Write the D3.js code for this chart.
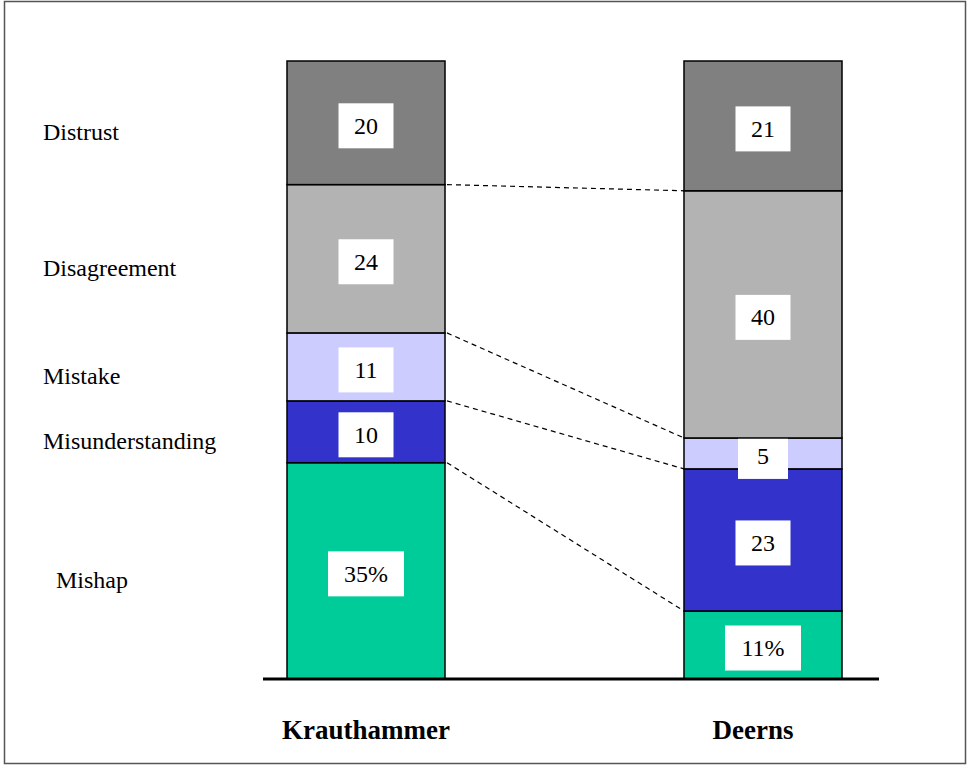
<!DOCTYPE html>
<meta charset="utf-8">
<style>
  body { margin: 0; background: #fff; }
  svg text { font-family: "Liberation Serif", "DejaVu Serif", "Times New Roman", Times, serif; fill: #000; }
  .cat { font-size: 24px; }
  .val { font-size: 24px; }
  .grp { font-size: 27px; font-weight: bold; }
</style>
<svg width="967" height="765" font-family="Liberation Serif, serif"></svg>
<script src="https://d3js.org/d3.v7.min.js"></script>
<script>
  // data (stacked from the bottom up)
  var groups = ["Krauthammer", "Deerns"];
  var categories = ["Mishap", "Misunderstanding", "Mistake", "Disagreement", "Distrust"];
  var krauthammer = [35, 10, 11, 24, 20];
  var deerns = [11, 23, 5, 40, 21];
  var labels = [["35%", "10", "11", "24", "20"], ["11%", "23", "5", "40", "21"]];
  var colours = ["#00CC99", "#3333CC", "#CCCCFF", "#B3B3B3", "#808080"];

  var svg = d3.select("svg");
  var series = [krauthammer, deerns];

  // outer frame
  svg.append("rect")
    .attr("x", 4.5).attr("y", 1.5)
    .attr("width", 961).attr("height", 762)
    .attr("fill", "none").attr("stroke", "#555").attr("stroke-width", 1.5);

  var x = d3.scaleBand().domain(groups).range([287, 842]).paddingInner(0.602).paddingOuter(0);
  var y = d3.scaleLinear().domain([0, 100]).range([679, 61]);

  // cumulative stacks
  var stacks = series.map(function (vals, gi) {
    var acc = 0;
    return vals.map(function (v, i) {
      var s = { group: groups[gi], cat: categories[i], y0: acc, y1: acc + v, label: labels[gi][i], colour: colours[i] };
      acc += v;
      return s;
    });
  });

  // dashed connectors between segment boundaries
  var bounds = d3.range(1, categories.length).map(function (i) {
    return { a: stacks[0][i].y0, b: stacks[1][i].y0 };
  });
  svg.selectAll(".conn")
    .data(bounds)
    .enter().append("line")
    .attr("x1", x(groups[0]) + x.bandwidth() + 2)
    .attr("x2", x(groups[1]))
    .attr("y1", function (d) { return y(d.a); })
    .attr("y2", function (d) { return y(d.b); })
    .attr("stroke", "#000").attr("stroke-width", 1.2)
    .attr("stroke-dasharray", "5,4");

  var segs = svg.selectAll(".seg")
    .data(stacks.flat())
    .enter().append("g");

  segs.append("rect")
    .attr("x", function (d) { return x(d.group); })
    .attr("y", function (d) { return y(d.y1); })
    .attr("width", x.bandwidth())
    .attr("height", function (d) { return y(d.y0) - y(d.y1); })
    .attr("fill", function (d) { return d.colour; })
    .attr("stroke", "#000").attr("stroke-width", 1.5);

  // white value boxes
  function boxW(t) { return t.indexOf("%") >= 0 ? 76 : (t.length > 1 ? 55 : 50); }
  function midY(d) { return y((d.y0 + d.y1) / 2) + 3; }
  segs.append("rect")
    .attr("x", function (d) { return x(d.group) + x.bandwidth() / 2 - boxW(d.label) / 2; })
    .attr("y", function (d) { return midY(d) - 22.5; })
    .attr("width", function (d) { return boxW(d.label); })
    .attr("height", 45)
    .attr("fill", "#fff");

  segs.append("text")
    .attr("class", "val")
    .attr("x", function (d) { return x(d.group) + x.bandwidth() / 2; })
    .attr("y", function (d) { return midY(d) + 8; })
    .attr("text-anchor", "middle")
    .text(function (d) { return d.label; });

  // baseline
  svg.append("line")
    .attr("x1", 263).attr("x2", 879)
    .attr("y1", y(0)).attr("y2", y(0))
    .attr("stroke", "#000").attr("stroke-width", 3);

  // category labels on the left, next to the first bar's segments
  svg.selectAll(".cat")
    .data(stacks[0])
    .enter().append("text")
    .attr("class", "cat")
    .attr("x", function (d) { return d.cat === "Mishap" ? 56 : 43; })
    .attr("y", function (d) { return y((d.y0 + d.y1) / 2) + 17; })
    .text(function (d) { return d.cat; });

  // group labels
  svg.selectAll(".grp")
    .data(groups)
    .enter().append("text")
    .attr("class", "grp")
    .attr("x", function (d, i) { return x(d) + x.bandwidth() / 2 - (i ? 10 : 0); })
    .attr("y", 739)
    .attr("text-anchor", "middle")
    .text(function (d) { return d; });
</script>
